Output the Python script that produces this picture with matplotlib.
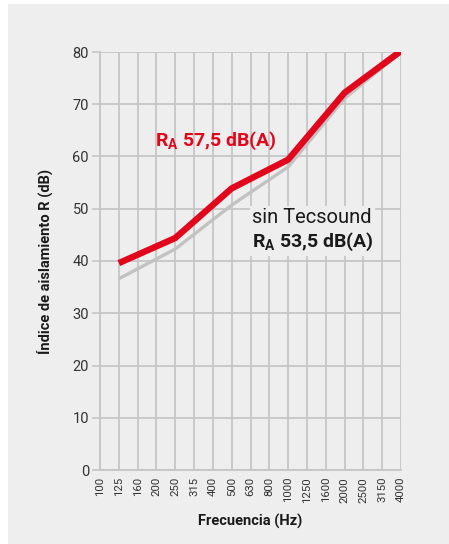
import matplotlib.pyplot as plt

plt.rcParams['font.family'] = ['Roboto', 'DejaVu Sans']
plt.rcParams['mathtext.fontset'] = 'custom'
plt.rcParams['mathtext.rm'] = 'Roboto'
plt.rcParams['mathtext.bf'] = 'Roboto:bold'

frequencies = ['100', '125', '160', '200', '250', '315', '400', '500', '630',
               '800', '1000', '1250', '1600', '2000', '2500', '3150', '4000']
measured_at = ['125', '250', '500', '1000', '2000', '4000']
con_tecsound = [39.6, 44.4, 53.9, 59.4, 72.2, 80.2]
sin_tecsound = [36.6, 42.3, 50.7, 58.0, 71.1, 80.0]

BG = '#eeeeee'
GRID = '#c6c6c6'
RED = '#e2061c'
INK = '#1a1a1a'

fig = plt.figure(figsize=(4.49, 5.44), dpi=100)
fig.patch.set_facecolor('white')
panel = plt.Rectangle((8 / 449, 0), 1, 1 - 4 / 544, transform=fig.transFigure,
                      facecolor=BG, edgecolor='none', zorder=-10)
fig.patches.append(panel)

ax = fig.add_axes([100 / 449, 1 - 470 / 544, 301 / 449, 418 / 544])
ax.set_facecolor(BG)

xs = range(len(frequencies))
ax.set_xlim(0, len(frequencies) - 1)
ax.set_ylim(0, 80)
ax.set_xticks(list(xs))
ax.set_xticklabels(frequencies, rotation=90, fontsize=8.2, color='#333333')
ax.set_yticks(range(0, 81, 10))
ax.tick_params(axis='y', labelsize=10.5, labelcolor='#333333', length=6,
               width=1.2, color=GRID, pad=2)
ax.tick_params(axis='x', length=0, pad=5)
ax.grid(True, color=GRID, linewidth=1.3)
ax.set_axisbelow(True)
for side in ['top', 'right']:
    ax.spines[side].set_visible(False)
for side in ['left', 'bottom']:
    ax.spines[side].set_color(GRID)
    ax.spines[side].set_linewidth(1.3)

pos = [frequencies.index(f) for f in measured_at]
ax.plot(pos, sin_tecsound, color='#c2c2c2', linewidth=2.4, solid_capstyle='butt', zorder=3)
ax.plot(pos, con_tecsound, color=RED, linewidth=4.6, solid_capstyle='butt', zorder=4)

ax.text(2.95, 62.0, r'$\mathbf{R_A}$' + ' 57,5 dB(A)', color=RED, fontsize=14,
        fontweight='bold', zorder=5)
ax.text(8.1, 47.2, 'sin Tecsound', color=INK, fontsize=14.5, zorder=5,
        bbox=dict(facecolor=BG, edgecolor='none', pad=2))
ax.text(8.1, 42.7, r'$\mathbf{R_A}$' + ' 53,5 dB(A)', color=INK, fontsize=14,
        fontweight='bold', zorder=5,
        bbox=dict(facecolor=BG, edgecolor='none', pad=2))

ax.set_xlabel('Frecuencia (Hz)', fontsize=10.5, fontweight='bold', color=INK,
              labelpad=8)
ax.set_ylabel('Índice de aislamiento R (dB)', fontsize=10.5, fontweight='bold',
              color=INK, labelpad=14)

fig.savefig('out.png', dpi=100)
